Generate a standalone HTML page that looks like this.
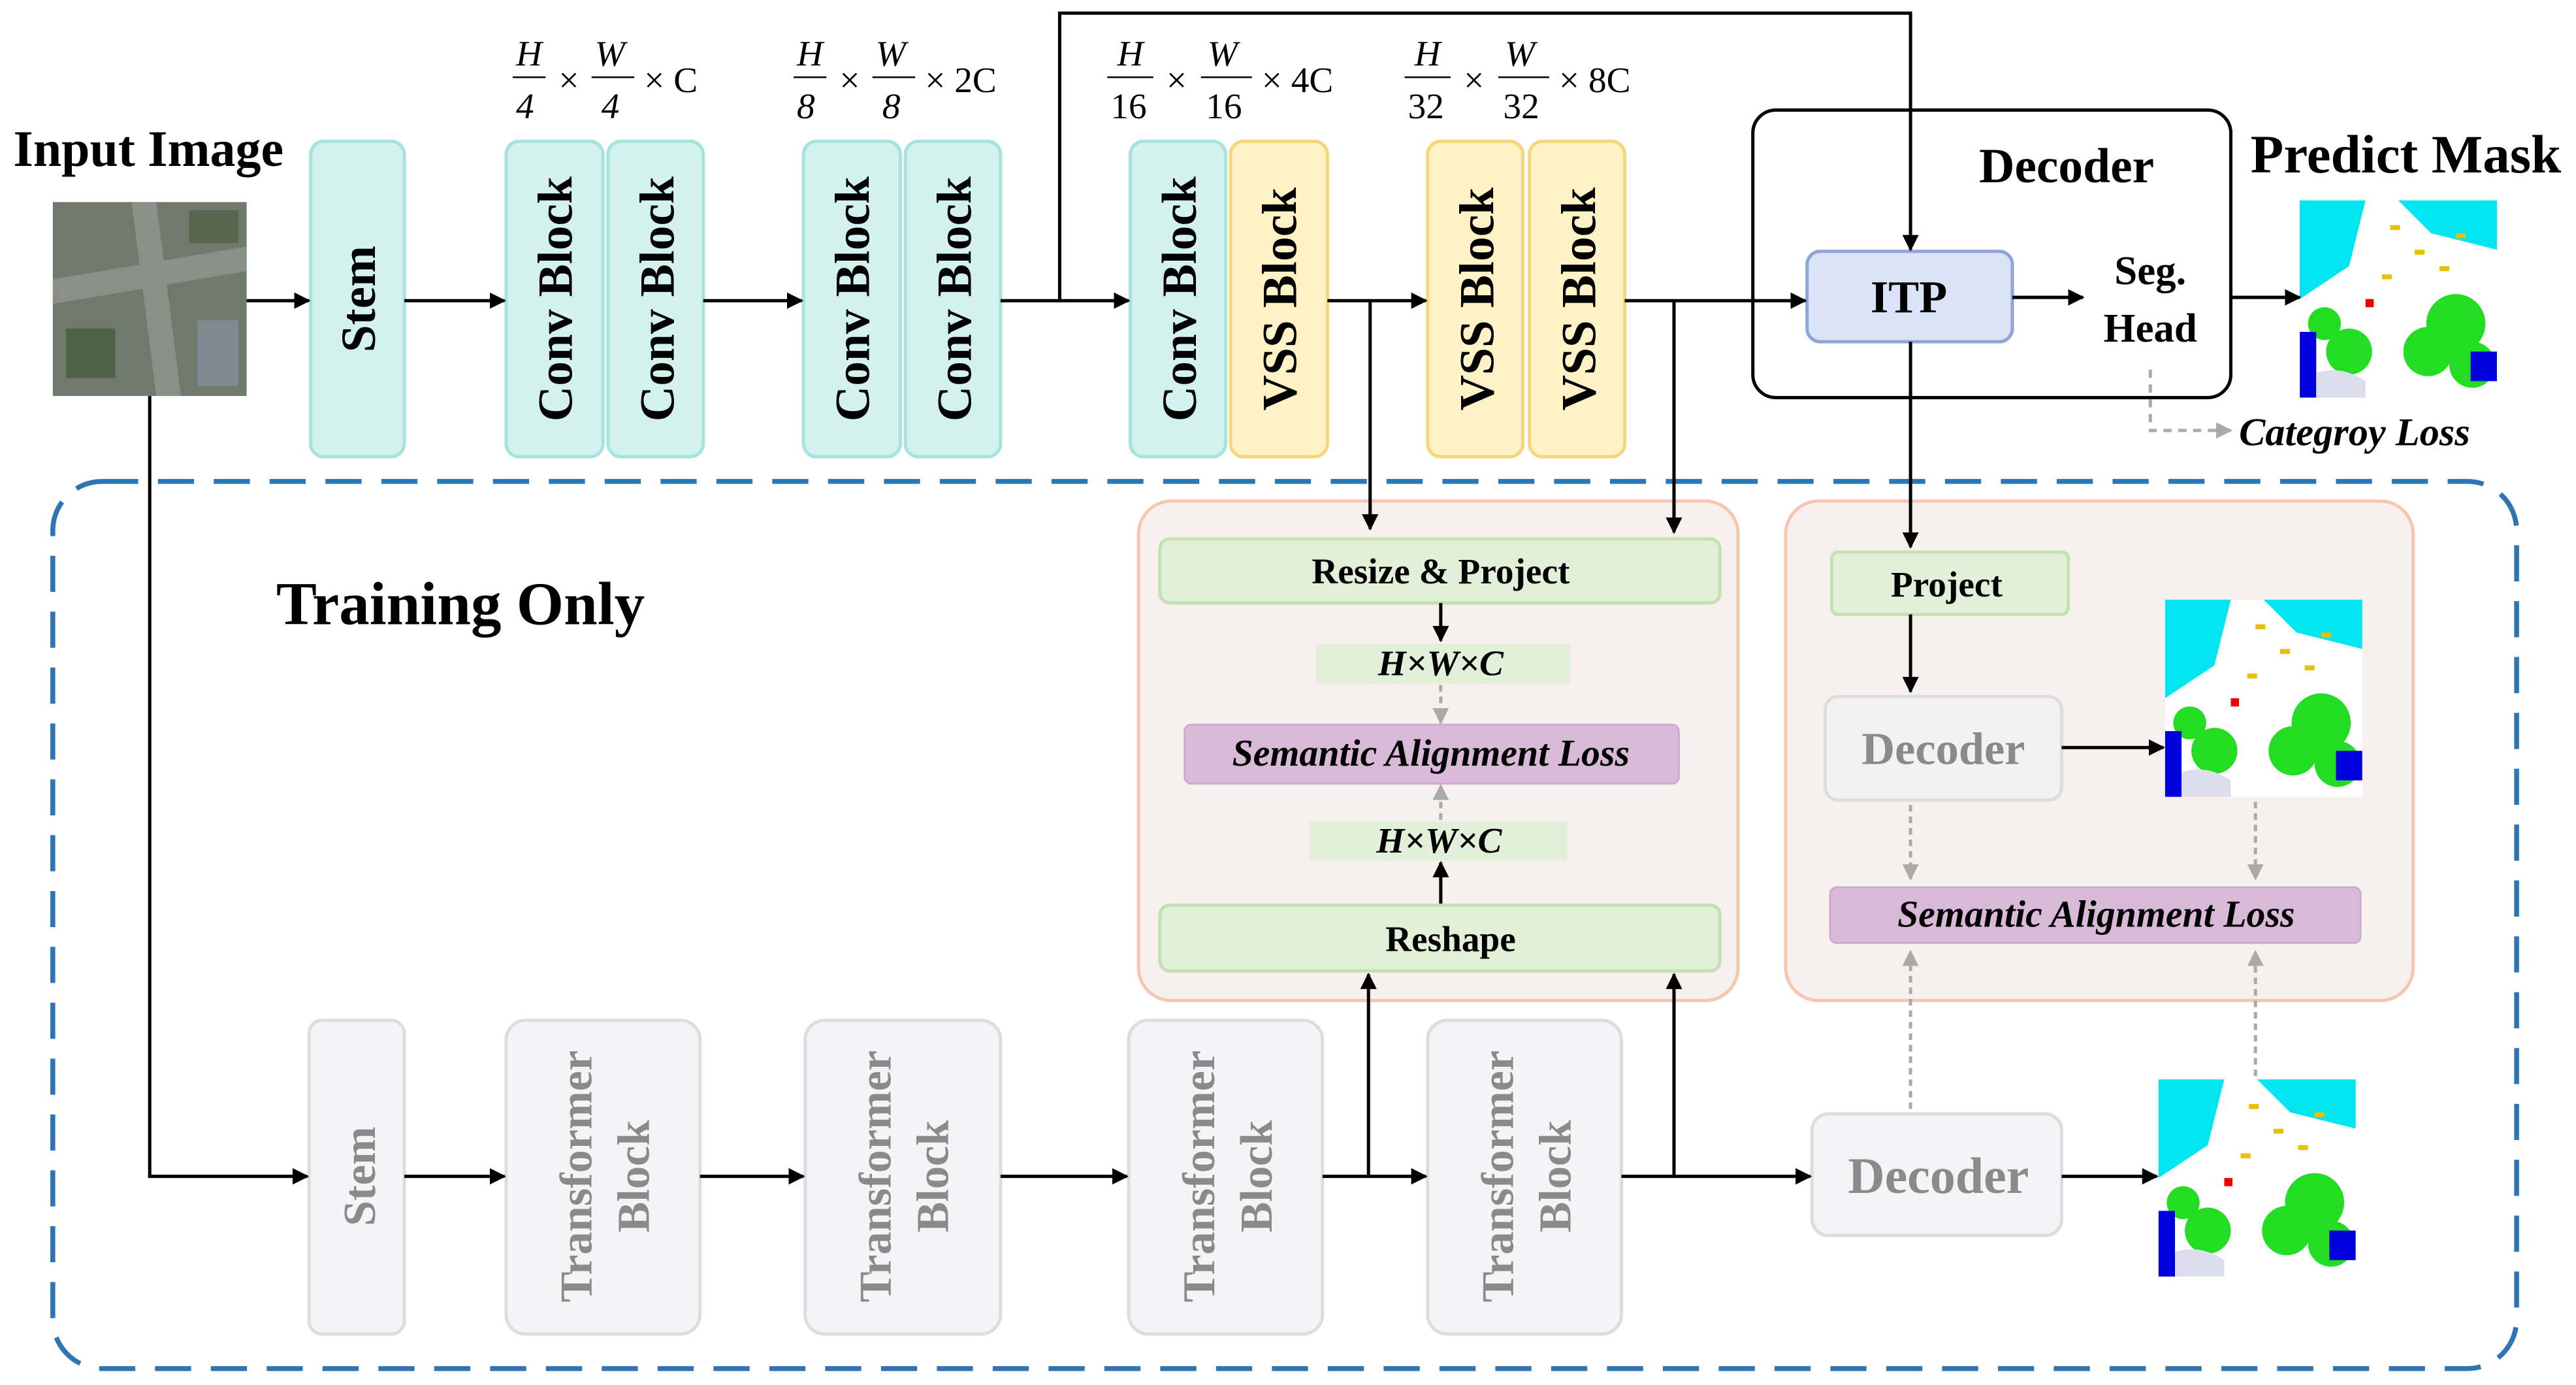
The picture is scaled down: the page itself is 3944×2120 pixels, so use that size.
<!DOCTYPE html>
<html><head><meta charset="utf-8"><style>
html,body{margin:0;padding:0;background:#fff}
svg{display:block}
text{font-family:"Liberation Serif",serif}
</style></head><body>
<svg width="3944" height="2120" viewBox="0 0 1568 843" xmlns="http://www.w3.org/2000/svg">
<defs>
<marker id="a" markerWidth="10" markerHeight="10" refX="9" refY="5" orient="auto" markerUnits="userSpaceOnUse"><path d="M0,0 L10,5 L0,10 z" fill="#000"/></marker>
<marker id="g" markerWidth="10" markerHeight="10" refX="9" refY="5" orient="auto" markerUnits="userSpaceOnUse"><path d="M0,0 L10,5 L0,10 z" fill="#aaa"/></marker>
<g id="mask">
<rect x="0" y="0" width="120" height="120" fill="#fff"/>
<path d="M0,0 L40,0 L30,40 L0,60z" fill="#00e5f0"/>
<path d="M60,0 L120,0 L120,30 L80,20z" fill="#00e5f0"/>
<circle cx="95" cy="75" r="18" fill="#22dd22"/><circle cx="78" cy="92" r="15" fill="#22dd22"/><circle cx="105" cy="100" r="14" fill="#22dd22"/>
<circle cx="30" cy="92" r="14" fill="#22dd22"/><circle cx="15" cy="75" r="10" fill="#22dd22"/>
<rect x="0" y="80" width="10" height="40" fill="#0000dd"/>
<rect x="104" y="92" width="16" height="18" fill="#0000dd"/>
<rect x="55" y="15" width="6" height="3" fill="#e8c000"/><rect x="70" y="30" width="6" height="3" fill="#e8c000"/><rect x="85" y="40" width="6" height="3" fill="#e8c000"/><rect x="50" y="45" width="6" height="3" fill="#e8c000"/><rect x="95" y="20" width="6" height="3" fill="#e8c000"/>
<rect x="40" y="60" width="5" height="5" fill="#e00"/>
<path d="M10,105 Q25,100 40,110 L40,120 L10,120z" fill="#dde"/>
</g>
</defs>

<rect x="32" y="293" width="1500" height="540" rx="30" fill="none" stroke="#2e75b6" stroke-width="3" stroke-dasharray="22,12"/>
<text x="168" y="380" font-size="37" font-weight="bold">Training Only</text>

<text x="8" y="101" font-size="31" font-weight="bold">Input Image</text>
<text x="1370" y="105" font-size="33" font-weight="bold">Predict Mask</text>

<rect x="32" y="123" width="118" height="118" fill="#6f7a6c"/>
<path d="M32,170 L150,150 L150,165 L32,185z" fill="#8a8f88"/>
<path d="M80,123 L95,123 L110,241 L95,241z" fill="#8a8f88"/>
<rect x="40" y="200" width="30" height="30" fill="#4e6345"/><rect x="115" y="128" width="30" height="20" fill="#55674c"/>
<rect x="120" y="195" width="25" height="40" fill="#7e8a90"/>

<g font-size="22" font-style="italic">
<text x="314" y="40">H</text><text x="314" y="72">4</text><line x1="312" y1="47" x2="332" y2="47" stroke="#000"/>
<text x="340" y="56" font-style="normal">×</text>
<text x="362" y="40">W</text><text x="366" y="72">4</text><line x1="360" y1="47" x2="386" y2="47" stroke="#000"/>
<text x="392" y="56" font-style="normal">× C</text>
<text x="485" y="40">H</text><text x="485" y="72">8</text><line x1="483" y1="47" x2="503" y2="47" stroke="#000"/>
<text x="511" y="56" font-style="normal">×</text>
<text x="533" y="40">W</text><text x="537" y="72">8</text><line x1="531" y1="47" x2="557" y2="47" stroke="#000"/>
<text x="563" y="56" font-style="normal">× 2C</text>
<text x="680" y="40">H</text><text x="676" y="72" font-style="normal">16</text><line x1="674" y1="47" x2="702" y2="47" stroke="#000"/>
<text x="710" y="56" font-style="normal">×</text>
<text x="735" y="40">W</text><text x="734" y="72" font-style="normal">16</text><line x1="731" y1="47" x2="762" y2="47" stroke="#000"/>
<text x="768" y="56" font-style="normal">× 4C</text>
<text x="861" y="40">H</text><text x="857" y="72" font-style="normal">32</text><line x1="855" y1="47" x2="883" y2="47" stroke="#000"/>
<text x="891" y="56" font-style="normal">×</text>
<text x="916" y="40">W</text><text x="915" y="72" font-style="normal">32</text><line x1="912" y1="47" x2="943" y2="47" stroke="#000"/>
<text x="949" y="56" font-style="normal">× 8C</text>
</g>

<g stroke-width="2">
<rect x="189" y="86" width="57" height="192" rx="8" fill="#d3f1ee" stroke="#a6e3dc"/>
<rect x="308" y="86" width="59" height="192" rx="8" fill="#d3f1ee" stroke="#a6e3dc"/>
<rect x="370" y="86" width="58" height="192" rx="8" fill="#d3f1ee" stroke="#a6e3dc"/>
<rect x="489" y="86" width="59" height="192" rx="8" fill="#d3f1ee" stroke="#a6e3dc"/>
<rect x="551" y="86" width="58" height="192" rx="8" fill="#d3f1ee" stroke="#a6e3dc"/>
<rect x="688" y="86" width="58" height="192" rx="8" fill="#d3f1ee" stroke="#a6e3dc"/>
<rect x="749" y="86" width="59" height="192" rx="8" fill="#fff2c6" stroke="#f5d67a"/>
<rect x="869" y="86" width="58" height="192" rx="8" fill="#fff2c6" stroke="#f5d67a"/>
<rect x="931" y="86" width="58" height="192" rx="8" fill="#fff2c6" stroke="#f5d67a"/>
</g>
<g font-size="30" font-weight="bold" text-anchor="middle">
<text transform="translate(228,182) rotate(-90)">Stem</text>
<text transform="translate(348,182) rotate(-90)">Conv Block</text>
<text transform="translate(410,182) rotate(-90)">Conv Block</text>
<text transform="translate(529,182) rotate(-90)">Conv Block</text>
<text transform="translate(591,182) rotate(-90)">Conv Block</text>
<text transform="translate(728,182) rotate(-90)">Conv Block</text>
<text transform="translate(789,182) rotate(-90)">VSS Block</text>
<text transform="translate(909,182) rotate(-90)">VSS Block</text>
<text transform="translate(971,182) rotate(-90)">VSS Block</text>
</g>

<rect x="1067" y="67" width="291" height="175" rx="14" fill="none" stroke="#000" stroke-width="2"/>
<text x="1258" y="111" font-size="30" font-weight="bold" text-anchor="middle">Decoder</text>
<rect x="1100" y="153" width="125" height="55" rx="8" fill="#dae3f8" stroke="#8fa5d9" stroke-width="2"/>
<text x="1162" y="190" font-size="28" font-weight="bold" text-anchor="middle">ITP</text>
<text x="1309" y="173" font-size="25" font-weight="bold" text-anchor="middle">Seg.</text>
<text x="1309" y="208" font-size="25" font-weight="bold" text-anchor="middle">Head</text>
<use href="#mask" x="1400" y="122"/>
<polyline points="1309,225 1309,262 1358,262" stroke="#aaa" stroke-width="2" fill="none" stroke-dasharray="5,4" marker-end="url(#g)"/>
<text x="1363" y="271" font-size="24" font-weight="bold" font-style="italic">Categroy Loss</text>

<rect x="693" y="305" width="365" height="304" rx="20" fill="#f8f0ef" stroke="#f4c7b0" stroke-width="2"/>
<rect x="1087" y="305" width="382" height="304" rx="20" fill="#f8f0ef" stroke="#f4c7b0" stroke-width="2"/>

<rect x="706" y="328" width="341" height="39" rx="6" fill="#e2efd9" stroke="#c5e0b4" stroke-width="2"/>
<text x="877" y="355" font-size="22" font-weight="bold" text-anchor="middle">Resize &amp; Project</text>
<rect x="801" y="392" width="155" height="24" fill="#e2efd9"/>
<text x="877" y="411" font-size="22" font-weight="bold" font-style="italic" text-anchor="middle">H×W×C</text>
<rect x="721" y="441" width="301" height="36" rx="4" fill="#d9b9d8" stroke="#cfa6ce"/>
<text x="871" y="466" font-size="23" font-weight="bold" font-style="italic" text-anchor="middle">Semantic Alignment Loss</text>
<rect x="797" y="500" width="157" height="24" fill="#e2efd9"/>
<text x="876" y="519" font-size="22" font-weight="bold" font-style="italic" text-anchor="middle">H×W×C</text>
<rect x="706" y="551" width="341" height="40" rx="6" fill="#e2efd9" stroke="#c5e0b4" stroke-width="2"/>
<text x="883" y="579" font-size="22" font-weight="bold" text-anchor="middle">Reshape</text>
<line x1="877" y1="367" x2="877" y2="390" stroke="#000" stroke-width="2" marker-end="url(#a)"/>
<line x1="877" y1="550" x2="877" y2="525" stroke="#000" stroke-width="2" marker-end="url(#a)"/>
<g stroke="#aaa" stroke-width="2" fill="none" stroke-dasharray="4,3" marker-end="url(#g)">
<line x1="877" y1="417" x2="877" y2="440"/>
<line x1="877" y1="499" x2="877" y2="478"/>
<line x1="1163" y1="490" x2="1163" y2="535"/>
<line x1="1373" y1="488" x2="1373" y2="535"/>
<line x1="1163" y1="675" x2="1163" y2="579"/>
<line x1="1373" y1="655" x2="1373" y2="579"/>
</g>

<rect x="1115" y="336" width="144" height="38" rx="4" fill="#e2efd9" stroke="#c5e0b4" stroke-width="2"/>
<text x="1185" y="363" font-size="22" font-weight="bold" text-anchor="middle">Project</text>
<line x1="1163" y1="374" x2="1163" y2="421" stroke="#000" stroke-width="2" marker-end="url(#a)"/>
<rect x="1111" y="424" width="144" height="63" rx="8" fill="#f2f2f2" stroke="#ddd" stroke-width="2"/>
<text x="1183" y="465" font-size="28" font-weight="bold" fill="#8a8a8a" text-anchor="middle">Decoder</text>
<line x1="1255" y1="455" x2="1317" y2="455" stroke="#000" stroke-width="2" marker-end="url(#a)"/>
<use href="#mask" x="1318" y="365"/>
<rect x="1114" y="540" width="323" height="34" rx="4" fill="#d9b9d8" stroke="#cfa6ce"/>
<text x="1276" y="564" font-size="23" font-weight="bold" font-style="italic" text-anchor="middle">Semantic Alignment Loss</text>

<g stroke-width="2" fill="#f4f4f6" stroke="#ddd">
<rect x="188" y="621" width="58" height="191" rx="8"/>
<rect x="308" y="621" width="118" height="191" rx="12"/>
<rect x="490" y="621" width="119" height="191" rx="12"/>
<rect x="687" y="621" width="118" height="191" rx="12"/>
<rect x="869" y="621" width="118" height="191" rx="12"/>
<rect x="1103" y="678" width="152" height="74" rx="10"/>
</g>
<g font-size="28" font-weight="bold" fill="#8a8a8a" text-anchor="middle">
<text transform="translate(228,716) rotate(-90)">Stem</text>
<text transform="translate(360,716) rotate(-90)">Transformer</text>
<text transform="translate(395,716) rotate(-90)">Block</text>
<text transform="translate(542,716) rotate(-90)">Transformer</text>
<text transform="translate(577,716) rotate(-90)">Block</text>
<text transform="translate(739,716) rotate(-90)">Transformer</text>
<text transform="translate(774,716) rotate(-90)">Block</text>
<text transform="translate(921,716) rotate(-90)">Transformer</text>
<text transform="translate(956,716) rotate(-90)">Block</text>
<text x="1180" y="726" font-size="31">Decoder</text>
</g>
<use href="#mask" x="1314" y="657"/>

<g stroke="#000" stroke-width="2" fill="none" marker-end="url(#a)">
<line x1="150" y1="183" x2="188" y2="183"/>
<line x1="246" y1="183" x2="307" y2="183"/>
<line x1="428" y1="183" x2="488" y2="183"/>
<line x1="609" y1="183" x2="687" y2="183"/>
<line x1="808" y1="183" x2="868" y2="183"/>
<line x1="989" y1="183" x2="1099" y2="183"/>
<polyline points="645,183 645,8 1163,8 1163,152"/>
<line x1="1225" y1="181" x2="1268" y2="181"/>
<line x1="1358" y1="181" x2="1400" y2="181"/>
<line x1="834" y1="183" x2="834" y2="322"/>
<line x1="1019" y1="183" x2="1019" y2="324"/>
<line x1="1163" y1="208" x2="1163" y2="333"/>
<polyline points="91,241 91,716 187,716"/>
<line x1="246" y1="716" x2="307" y2="716"/>
<line x1="426" y1="716" x2="489" y2="716"/>
<line x1="609" y1="716" x2="686" y2="716"/>
<line x1="805" y1="716" x2="868" y2="716"/>
<line x1="987" y1="716" x2="1102" y2="716"/>
<line x1="1255" y1="716" x2="1313" y2="716"/>
<line x1="833" y1="716" x2="833" y2="593"/>
<line x1="1019" y1="716" x2="1019" y2="593"/>
</g>
</svg>
</body></html>
